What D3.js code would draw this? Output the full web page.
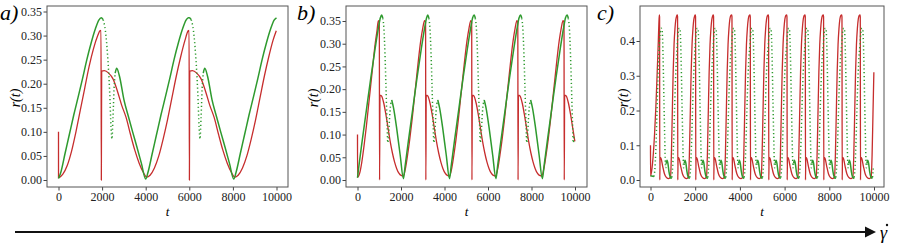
<!DOCTYPE html>
<html>
<head>
<meta charset="utf-8">
<script src="https://cdn.jsdelivr.net/npm/d3@7"></script>
<style>
  body { margin: 0; background: #fff; }
  svg { display: block; font-family: "Liberation Serif", "DejaVu Serif", serif; }
  .tick line { stroke: #444; }
</style>
</head>
<body>
<svg id="chart" width="897" height="243"></svg>
<script>
// values: [t, r(t)]
var xTicks = [0, 2000, 4000, 6000, 8000, 10000];
var yTicksAB = [0, 0.05, 0.10, 0.15, 0.20, 0.25, 0.30, 0.35];
var yTicksC = [0, 0.1, 0.2, 0.3, 0.4];

// panel a) -- red: start, then one cycle placed at each jump
var aRedHead = [[0,0.10],[1,0.005],[200,0.012],[400,0.03],[600,0.06],[800,0.10],[1000,0.145],[1200,0.19],
  [1400,0.235],[1600,0.272],[1800,0.300],[1900,0.31]];
var aRedCycle = [[0,0.311],[15,0],[30,0.226],[150,0.227],[350,0.222],[550,0.21],[750,0.185],[950,0.155],
  [1150,0.13],[1350,0.095],[1550,0.062],[1750,0.035],[1950,0.015],[2100,0.006],[2250,0.01],[2450,0.025],
  [2650,0.05],[2850,0.085],[3050,0.125],[3250,0.17],[3450,0.215],[3650,0.255],[3850,0.29],[4000,0.31]];
var aRedJumps = [1950, 5990];
var aGreenHead = [[0,0.003],[100,0.015],[300,0.055],[500,0.095],[700,0.135],[900,0.172],[1100,0.21],
  [1300,0.25],[1500,0.285],[1700,0.315],[1850,0.332]];
var aGreenCycle = [[0,0.337],[90,0.333],[190,0.31],[290,0.26],[390,0.18],[450,0.11],[490,0.085],[540,0.13],
  [590,0.19],[640,0.222],[710,0.232],[840,0.215],[1040,0.167],[1240,0.133],[1440,0.10],[1640,0.068],
  [1840,0.035],[2040,0.002],[2140,0.015],[2340,0.055],[2540,0.095],[2740,0.135],[2940,0.172],[3140,0.21],
  [3340,0.25],[3540,0.285],[3740,0.315],[3890,0.332],[4000,0.337]];
var aGreenPeaks = [1960, 6000];
var aGreenDots = [[70, 630]];

// panel b)
var bRedHead = [[0,0.10],[1,0.006],[100,0.015],[200,0.04],[300,0.075],[400,0.115],[500,0.16],[600,0.205],
  [700,0.25],[800,0.295],[900,0.33],[958,0.351]];
var bRedCycle = [[0,0.347],[12,0],[30,0.187],[100,0.185],[200,0.17],[300,0.145],[400,0.115],[500,0.085],
  [600,0.06],[700,0.04],[800,0.025],[900,0.015],[1000,0.01],[1100,0.009],[1200,0.025],[1300,0.055],
  [1400,0.09],[1500,0.13],[1600,0.175],[1700,0.22],[1800,0.265],[1900,0.305],[2000,0.335],[2080,0.351]];
var bRedJumps = [1003, 3130, 5250, 7370, 9494];
var bGreenHead = [[0,0.005],[62,0.03],[212,0.085],[412,0.155],[612,0.225],[812,0.29],[962,0.335],[1052,0.357]];
var bGreenCycle = [[0,0.363],[50,0.356],[100,0.335],[150,0.28],[200,0.2],[250,0.12],[280,0.082],[320,0.1],
  [380,0.15],[460,0.176],[540,0.16],[700,0.11],[850,0.055],[1000,0.003],[1075,0.03],[1225,0.085],
  [1425,0.155],[1625,0.225],[1825,0.29],[1975,0.335],[2065,0.357]];
var bGreenPeaks = [1112, 3230, 5365, 7500, 9640];
var bGreenDots = [[60, 420]];

// panel c)
var cRedHead = [[0,0.10],[1,0.012],[60,0.03],[120,0.07],[180,0.13],[240,0.21],[300,0.31],[350,0.40],[375,0.45]];
var cRedCycle = [[0,0.475],[12,0.47],[22,0],[35,0.065],[80,0.062],[150,0.04],[230,0.018],[320,0.007],
  [420,0.004],[500,0.008],[540,0.07],[580,0.19],[620,0.31],[660,0.39],[700,0.435],[740,0.462],[780,0.473]];
var cRedPeaks = [394, 1199, 2004, 2810, 3633, 4452, 5271, 6094, 6913, 7732, 8555, 9374];
var cGreenHead = [[0,0.012],[154,0.01],[194,0.03],[234,0.08],[274,0.16],[314,0.25],[354,0.33]];
var cGreenCycle = [[0,0.39],[40,0.425],[90,0.437],[120,0.435],[150,0.40],[180,0.32],[210,0.22],[240,0.13],
  [265,0.06],[285,0.035],[310,0.048],[345,0.057],[385,0.048],[430,0.025],[490,0.008],[530,0.005],[560,0.008],
  [600,0.04],[640,0.11],[680,0.2],[720,0.28],[760,0.34]];
var cGreenDots = [[-250, 300], [555, 1000]];

var red = "#c62d2d", green = "#2e9a2e";
var serif = '"Liberation Serif", "DejaVu Serif", serif';

var panels = [
  {label: "a)", lx: 0, box: [47, 6, 288, 187], xr: [58.5, 276.5], yd: [0, 0.35], yr: [180, 11.5], yTicks: yTicksAB, fmt: ".2f", ylx: 15,
   red: [aRedHead, aRedCycle, aRedJumps], green: [aGreenHead, aGreenCycle, aGreenPeaks], dots: aGreenDots},
  {label: "b)", lx: 297, box: [346, 6, 587, 187], xr: [357.5, 575], yd: [0, 0.35], yr: [180, 21], yTicks: yTicksAB, fmt: ".2f", ylx: 313,
   red: [bRedHead, bRedCycle, bRedJumps], green: [bGreenHead, bGreenCycle, bGreenPeaks], dots: bGreenDots},
  {label: "c)", lx: 597, box: [640, 6, 884, 187], xr: [650.5, 874], yd: [0, 0.4], yr: [180, 41], yTicks: yTicksC, fmt: ".1f", ylx: 623,
   red: [cRedHead, cRedCycle, cRedPeaks], green: [cGreenHead, cGreenCycle, cRedPeaks], dots: cGreenDots}
];

// place the cycle at every anchor, keep t increasing and inside 0..10000
function build(head, cycle, anchors) {
  var pts = head.slice();
  anchors.forEach(function(a) {
    cycle.forEach(function(p) { pts.push([a + p[0], p[1]]); });
  });
  var out = [];
  pts.forEach(function(p) {
    if (p[0] > 10000) return;
    if (out.length && p[0] <= out[out.length - 1][0]) return;
    out.push(p);
  });
  return out;
}

function splitRuns(pts, dots, anchors) {
  var iv = [];
  anchors.forEach(function(a) { dots.forEach(function(d) { iv.push([a + d[0], a + d[1]]); }); });
  var isDot = function(t) { return iv.some(function(v) { return t >= v[0] && t <= v[1]; }); };
  var runs = [];
  for (var i = 0; i < pts.length - 1; i++) {
    var dot = isDot((pts[i][0] + pts[i + 1][0]) / 2);
    var last = runs[runs.length - 1];
    if (last && last.dot === dot) last.pts.push(pts[i + 1]);
    else runs.push({dot: dot, pts: [pts[i], pts[i + 1]]});
  }
  return runs;
}

function tidy(s) {
  s.attr("font-family", serif).attr("font-size", 12);
  s.select(".domain").remove();
  s.selectAll(".tick text").attr("fill", "#222");
}

var svg = d3.select("#chart");

panels.forEach(function(p) {
  var x = d3.scaleLinear().domain([0, 10000]).range(p.xr);
  var y = d3.scaleLinear().domain(p.yd).range(p.yr);
  var g = svg.append("g");
  var b = p.box;

  g.append("g")
      .attr("transform", "translate(" + b[0] + ",0)")
      .call(d3.axisLeft(y).tickValues(p.yTicks).tickFormat(d3.format(p.fmt)).tickSize(3.5).tickPadding(1.5))
      .call(tidy);

  g.append("g")
      .attr("transform", "translate(0," + b[3] + ")")
      .call(d3.axisBottom(x).tickValues(xTicks).tickFormat(d3.format("d")).tickSize(3.5).tickPadding(2))
      .call(tidy);

  var line = d3.line()
      .x(function(d) { return x(d[0]); })
      .y(function(d) { return y(d[1]); })
      .curve(d3.curveMonotoneX);

  var redPts = build(p.red[0], p.red[1], p.red[2]);
  g.append("path")
      .attr("d", line(redPts))
      .attr("fill", "none")
      .attr("stroke", red)
      .attr("stroke-width", 1.3);

  var greenPts = build(p.green[0], p.green[1], p.green[2]);
  splitRuns(greenPts, p.dots, p.green[2]).forEach(function(r) {
    g.append("path")
        .attr("d", line(r.pts))
        .attr("fill", "none")
        .attr("stroke", green)
        .attr("stroke-width", 1.5)
        .attr("stroke-dasharray", r.dot ? "1.2,2.6" : null);
  });

  g.append("rect")
      .attr("x", b[0]).attr("y", b[1])
      .attr("width", b[2] - b[0]).attr("height", b[3] - b[1])
      .attr("fill", "none")
      .attr("stroke", "#555")
      .attr("stroke-width", 1);

  g.append("text")
      .attr("x", p.lx).attr("y", 20)
      .attr("font-size", 22).attr("font-style", "italic")
      .text(p.label);

  g.append("text")
      .attr("transform", "translate(" + p.ylx + ",98) rotate(-90)")
      .attr("text-anchor", "middle").attr("dy", "0.35em")
      .attr("font-size", 14).attr("font-style", "italic")
      .text("r(t)");

  g.append("text")
      .attr("x", (b[0] + b[2]) / 2).attr("y", 216)
      .attr("text-anchor", "middle")
      .attr("font-size", 13).attr("font-style", "italic")
      .text("t");
});

// shear-rate arrow along the bottom
svg.append("line")
    .attr("x1", 15).attr("y1", 232).attr("x2", 867).attr("y2", 232)
    .attr("stroke", "#111").attr("stroke-width", 2.2);
svg.append("path")
    .attr("d", "M865,226.5L876,232L865,237.5Z")
    .attr("fill", "#111");
svg.append("text")
    .attr("x", 880).attr("y", 239)
    .attr("font-size", 18).attr("font-style", "italic")
    .text("γ");
svg.append("circle")
    .attr("cx", 887).attr("cy", 225).attr("r", 1.2)
    .attr("fill", "#111");
</script>
</body>
</html>
